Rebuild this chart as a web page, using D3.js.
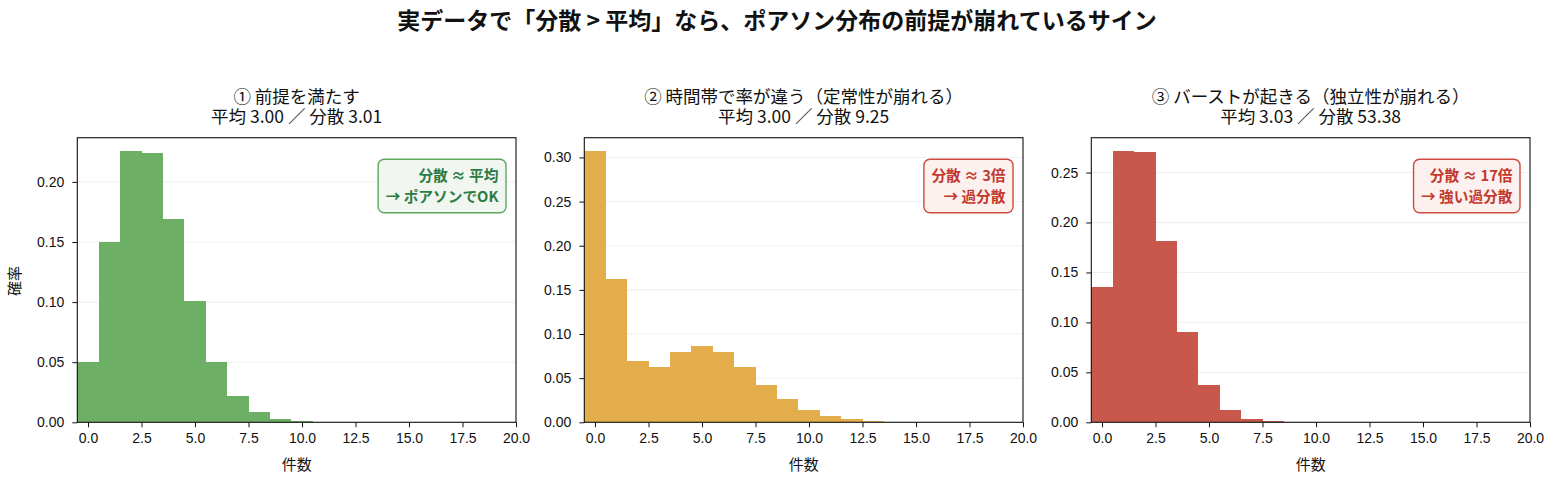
<!DOCTYPE html>
<html>
<head>
<meta charset="utf-8">
<script src="https://cdn.jsdelivr.net/npm/d3@7"></script>
<style>
  html, body { margin: 0; padding: 0; background: #fff; }
  svg { display: block; font-family: "Noto Sans CJK JP", "Noto Sans", sans-serif; }
</style>
</head>
<body>
<div id="chart"></div>
<script>
// histogram bins are centred on integer counts 0, 1, 2, ...
const titles = [
  ["① 前提を満たす", "平均 3.00 ／ 分散 3.01"],
  ["② 時間帯で率が違う（定常性が崩れる）", "平均 3.00 ／ 分散 9.25"],
  ["③ バーストが起きる（独立性が崩れる）", "平均 3.03 ／ 分散 53.38"]
];
const poissonProbs = [0.050, 0.150, 0.2255, 0.2238, 0.169, 0.1008, 0.050, 0.0219, 0.0086, 0.0028, 0.0009];
const nonstationaryProbs = [0.307, 0.162, 0.0694, 0.0626, 0.0796, 0.0864, 0.0796, 0.0626, 0.0423, 0.0264, 0.014, 0.0072, 0.0036, 0.0013, 0.0009];
const burstProbs = [0.1353, 0.2713, 0.2703, 0.1813, 0.0903, 0.0373, 0.0123, 0.0033, 0.001];
const notes = [
  ["分散 ≈ 平均", "→ ポアソンでOK"],
  ["分散 ≈ 3倍", "→ 過分散"],
  ["分散 ≈ 17倍", "→ 強い過分散"]
];
const xTicks = [0, 2.5, 5, 7.5, 10, 12.5, 15, 17.5, 20];

const series = [poissonProbs, nonstationaryProbs, burstProbs];
const barColors = ["#6daf65", "#e3ad4c", "#c9584c"];
const noteStyle = [
  {text: "#2b7b45", stroke: "#5ca85a", fill: "#f1f6f0"},
  {text: "#c2392d", stroke: "#cc4a3e", fill: "#fdf1f0"},
  {text: "#c2392d", stroke: "#cc4a3e", fill: "#fdf1f0"}
];

const W = 1559, H = 485;
const svg = d3.select("#chart").append("svg")
  .attr("width", W)
  .attr("height", H);

svg.append("text")
  .attr("x", 777)
  .attr("y", 21)
  .attr("dy", "0.35em")
  .attr("text-anchor", "middle")
  .attr("font-size", 23)
  .attr("font-weight", "bold")
  .attr("fill", "#111")
  .text("実データで「分散 > 平均」なら、ポアソン分布の前提が崩れているサイン");

const axW = 438.7, axTop = 137.7, axBottom = 422.3;

series.forEach((vals, i) => {
  const left = 77.3 + 507 * i;
  const x = d3.scaleLinear().domain([-0.5, 20]).range([left, left + axW]);
  const ymax = d3.max(vals) * 1.05;
  const y = d3.scaleLinear().domain([0, ymax]).range([axBottom, axTop]);
  const yTicks = d3.range(0, ymax + 1e-9, 0.05);

  const g = svg.append("g");

  // grid
  g.append("g")
    .selectAll("line")
    .data(yTicks)
    .join("line")
    .attr("x1", left).attr("x2", left + axW)
    .attr("y1", d => y(d)).attr("y2", d => y(d))
    .attr("stroke", "#ebebeb")
    .attr("stroke-width", 0.8);

  // bars
  g.append("g")
    .attr("shape-rendering", "crispEdges")
    .selectAll("rect")
    .data(vals)
    .join("rect")
    .attr("x", (d, k) => x(k - 0.5))
    .attr("width", (d, k) => x(k + 0.5) - x(k - 0.5))
    .attr("y", d => y(d))
    .attr("height", d => y(0) - y(d))
    .attr("fill", barColors[i]);

  // axes
  const xAxis = g.append("g")
    .attr("transform", `translate(0,${axBottom})`)
    .call(d3.axisBottom(x).tickValues(xTicks).tickFormat(d3.format(".1f")).tickSize(5).tickPadding(6));
  const yAxis = g.append("g")
    .attr("transform", `translate(${left},0)`)
    .call(d3.axisLeft(y).tickValues(yTicks).tickFormat(d3.format(".2f")).tickSize(5).tickPadding(8));
  [xAxis, yAxis].forEach(a => {
    a.select(".domain").remove();
    a.selectAll("text").attr("font-size", 14).attr("fill", "#111").attr("font-family", null);
    a.selectAll("line").attr("stroke", "#111").attr("stroke-width", 1);
  });

  g.append("rect")
    .attr("x", left).attr("y", axTop)
    .attr("width", axW).attr("height", axBottom - axTop)
    .attr("fill", "none")
    .attr("stroke", "#111")
    .attr("stroke-width", 1.1);

  // two-line title in one text element
  const cx = left + axW / 2;
  const title = g.append("text")
    .attr("y", 97)
    .attr("text-anchor", "middle")
    .attr("font-size", 17.5)
    .attr("fill", "#111");
  titles[i].forEach((t, k) => {
    title.append("tspan")
      .attr("x", cx)
      .attr("dy", k === 0 ? "0.35em" : 20)
      .text(t);
  });

  g.append("text")
    .attr("x", cx)
    .attr("y", 465)
    .attr("dy", "0.35em")
    .attr("text-anchor", "middle")
    .attr("font-size", 15)
    .attr("fill", "#111")
    .text("件数");

  // annotation box
  const st = noteStyle[i];
  const box = g.append("g");
  const rx = left + axW - 10;
  const note = box.append("text")
    .attr("y", 175.5)
    .attr("text-anchor", "end")
    .attr("font-size", 14.7)
    .attr("font-weight", "bold")
    .attr("fill", st.text);
  notes[i].forEach((t, k) => {
    note.append("tspan")
      .attr("x", rx - 7.5)
      .attr("dy", k === 0 ? "0.35em" : 21.5)
      .text(t);
  });
  const tw = d3.max(note.selectAll("tspan").nodes(), n => n.getComputedTextLength());
  box.insert("rect", "text")
    .attr("x", rx - tw - 15)
    .attr("y", 159.3)
    .attr("width", tw + 15)
    .attr("height", 53.4)
    .attr("rx", 6)
    .attr("fill", st.fill)
    .attr("stroke", st.stroke)
    .attr("stroke-width", 1.4);
});

svg.append("text")
  .attr("transform", "translate(15,281) rotate(-90)")
  .attr("dy", "0.35em")
  .attr("text-anchor", "middle")
  .attr("font-size", 15)
  .attr("fill", "#111")
  .text("確率");
</script>
</body>
</html>
